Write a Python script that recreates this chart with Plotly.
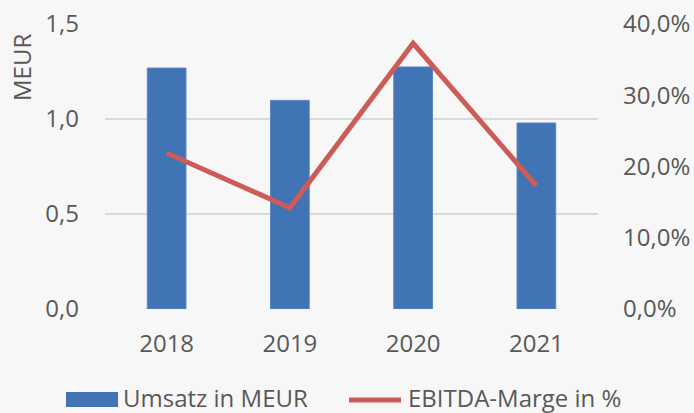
import plotly.graph_objects as go

years = ["2018", "2019", "2020", "2021"]
umsatz = [1.268, 1.098, 1.274, 0.979]
ebitda_marge = [0.219, 0.142, 0.373, 0.173]
series_names = ["Umsatz in MEUR", "EBITDA-Marge in %"]

bar_color = "#4074B4"
line_color = "#CD5B57"
text_color = "#595959"

fig = go.Figure()
fig.add_trace(go.Bar(
    x=years, y=umsatz, name=series_names[0],
    marker=dict(color=bar_color, line=dict(color="#5A86C2", width=1)),
    width=0.314, yaxis="y",
))
fig.add_trace(go.Scatter(
    x=years, y=ebitda_marge, name=series_names[1],
    mode="lines", line=dict(color=line_color, width=5),
    yaxis="y2",
))

font = dict(family="Open Sans", size=24, color=text_color)

# Manual legend (swatches + labels) placed below the plot area
L, R, T, B, W, H = 105, 96, 24, 104, 694, 413
pw, ph = W - L - R, H - T - B
def px(x):
    return (x - L) / pw
def py(y):
    return (H - B - y) / ph

shapes = [
    dict(type="rect", xref="paper", yref="paper",
         x0=px(66), x1=px(118), y0=py(407), y1=py(392),
         fillcolor=bar_color, line=dict(width=0)),
    dict(type="line", xref="paper", yref="paper",
         x0=px(349), x1=px(401), y0=py(400), y1=py(400),
         line=dict(color=line_color, width=5)),
]
annotations = [
    dict(text=series_names[0], xref="paper", yref="paper", x=px(122), y=py(397),
         xanchor="left", yanchor="middle", showarrow=False, font=font, borderpad=0),
    dict(text=series_names[1], xref="paper", yref="paper", x=px(407), y=py(397),
         xanchor="left", yanchor="middle", showarrow=False, font=font, borderpad=0),
    dict(text="MEUR", textangle=-90, xref="paper", yref="paper",
         x=px(21), y=py(68), xanchor="center", yanchor="middle",
         showarrow=False, font=font),
]

fig.update_layout(
    width=W, height=H,
    margin=dict(l=L, r=R, t=T, b=B, autoexpand=False),
    paper_bgcolor="#F7F7F7", plot_bgcolor="#F7F7F7",
    font=font,
    separators=",.",
    showlegend=False,
    xaxis=dict(showgrid=False, showline=False, zeroline=False, ticks="",
               ticklabelstandoff=18, tickfont=font),
    yaxis=dict(range=[0, 1.5], dtick=0.5, tickformat=".1f",
               showgrid=True, gridcolor="#D9D9D9", gridwidth=1.5,
               zeroline=False, showline=False, ticks="",
               ticklabelstandoff=25, tickfont=font),
    yaxis2=dict(range=[0, 0.4], dtick=0.1, tickformat=".1%",
                overlaying="y", side="right", showgrid=False,
                zeroline=False, showline=False, ticks="",
                ticklabelstandoff=24, tickfont=font),
    shapes=shapes,
    annotations=annotations,
)

fig.write_html("out.html")
